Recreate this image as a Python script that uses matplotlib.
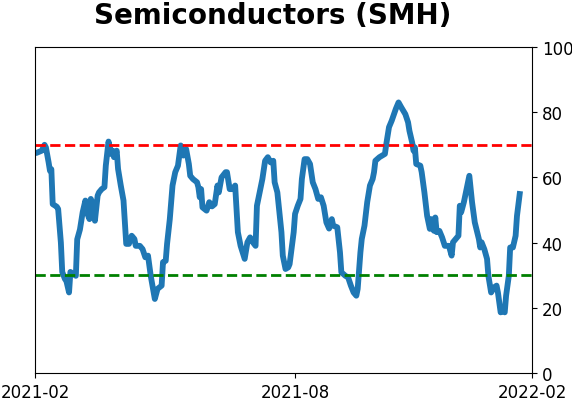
import numpy as np
import pandas as pd
import matplotlib
matplotlib.use("Agg")
import matplotlib.pyplot as plt
import matplotlib.dates as mdates

# days since 2021-02-01 and indicator values
day_offset = [0, 1, 5, 7, 8, 10, 11, 12, 13, 16, 17, 19, 20, 22, 23, 25, 26, 28, 30,
              31, 33, 35, 37, 38, 40, 41, 43, 44, 46, 47, 49, 51, 52, 54, 56, 57, 58,
              60, 61, 63, 65, 67, 69, 71, 73, 74, 77, 79, 81, 83, 85, 88, 90, 93, 94,
              96, 97, 99, 101, 103, 105, 107, 109, 111, 113, 114, 116, 119, 120, 121,
              122, 123, 126, 128, 130, 132, 134, 135, 137, 140, 141, 143, 145, 147,
              149, 151, 154, 156, 158, 160, 162, 163, 165, 167, 169, 171, 173, 175,
              176, 178, 179, 181, 182, 184, 186, 187, 190, 191, 193, 195, 196, 198,
              200, 202, 204, 206, 208, 210, 212, 214, 216, 218, 219, 222, 224, 225,
              228, 230, 232, 234, 236, 237, 239, 240, 242, 244, 246, 248, 249, 250,
              253, 255, 257, 258, 260, 262, 265, 267, 269, 272, 274, 275, 277, 278,
              279, 280, 283, 284, 286, 288, 290, 291, 293, 294, 295, 297, 299, 301,
              304, 306, 307, 311, 312, 313, 315, 317, 319, 320, 321, 323, 326, 327,
              328, 330, 332, 333, 335, 337, 339, 340, 342, 343, 345, 346, 348, 349,
              351, 353, 354, 356]
values = [67.5, 67.5, 68.2, 70, 69.2, 64.6, 62, 62.5, 51.8, 51, 50.3, 40, 31, 28.8,
          28.3, 24.7, 31, 30.4, 29.8, 41, 44, 49.3, 52.9, 49.4, 47.2, 53.4, 51.3,
          46.7, 54.4, 55.4, 56.4, 57, 63.6, 71, 67.2, 68.2, 66.2, 68.2, 62.6, 57.5,
          52.9, 39.6, 39.6, 42.1, 41.1, 39, 39, 38, 35.5, 36, 29.8, 22.7, 25.8, 26.8,
          34, 34.4, 39.6, 47.2, 57.5, 61.6, 63.6, 69.8, 66.7, 68.7, 64.1, 60.5, 59.5,
          58.5, 57, 53.9, 56.4, 50.8, 49.8, 52.4, 51.1, 51.8, 57.5, 55.4, 60, 61.6,
          61.6, 56.4, 56.4, 57.5, 43.2, 39, 35, 40.1, 41.6, 40.1, 39, 51.3, 55.4,
          59.5, 65.1, 66.2, 64.6, 65.1, 58.5, 55.4, 51.3, 43.2, 36, 31.9, 32.4, 33.4,
          43.2, 48.8, 51.3, 53.4, 59.5, 65.6, 65.6, 64.1, 58.5, 56.4, 53.4, 53.9,
          51.3, 46.2, 44.3, 47.2, 45.2, 44.7, 37, 30.9, 29.8, 29.3, 26.8, 24.7, 23.7,
          25.8, 37, 41.1, 45.2, 52.4, 57.5, 59.5, 61.6, 65.1, 66.2, 66.7, 67.2, 70.2,
          75.4, 77.4, 81, 83, 81.5, 79.4, 76.9, 74.3, 70.7, 68.2, 69.2, 64.1, 63.6,
          61.6, 55.4, 48.2, 44.2, 47.2, 43.6, 47.7, 43.2, 43.6, 41.6, 39, 39, 36,
          40.1, 42.1, 51.3, 49.3, 52.4, 56.4, 60.5, 56.4, 52.4, 46.2, 41.1, 38.5,
          40.1, 38, 35, 29.8, 24.7, 26.2, 26.8, 24.7, 18.6, 19.1, 18.6, 23.7, 29.8,
          38.5, 38.5, 42.1, 48.2, 54.9]

start = pd.Timestamp("2021-02-01")
end = pd.Timestamp("2022-02-01")
tick_dates = [start, pd.Timestamp("2021-08-11"), end]
upper, lower = 70, 30

dates = start + pd.to_timedelta(day_offset, unit="D")

fig = plt.figure(figsize=(5.72, 4.02), dpi=100)
ax = fig.add_axes([0.0612, 0.0697, 0.8688, 0.8109])

ax.plot(dates, values, color="#1f77b4", linewidth=4.2)
ax.axhline(upper, color="red", linestyle="--", linewidth=2)
ax.axhline(lower, color="green", linestyle="--", linewidth=2)

ax.set_xlim(start, end)
ax.set_ylim(0, 100)
ax.set_xticks(tick_dates)
ax.xaxis.set_major_formatter(mdates.DateFormatter("%Y-%m"))
ax.yaxis.tick_right()
ax.set_yticks([0, 20, 40, 60, 80, 100])
ax.tick_params(labelsize=12)

ax.set_title("Semiconductors (SMH)", fontsize=20, fontweight="bold",
             x=0.479, pad=17)

fig.savefig("out.png", dpi=100)
